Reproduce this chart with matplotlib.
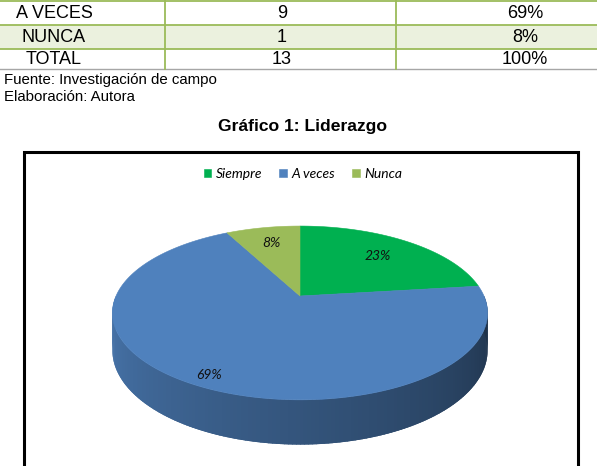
import numpy as np
import matplotlib
matplotlib.use("Agg")
import matplotlib.pyplot as plt
from matplotlib.patches import Polygon, Rectangle
from matplotlib.colors import to_rgb

# data
categories = ["Siempre", "A veces", "Nunca"]
counts = [3, 9, 1]
colors = ["#00b050", "#4f81bd", "#9bbb59"]
table_labels = ["A VECES", "NUNCA", "TOTAL"]
title = "Gráfico 1: Liderazgo"
notes = ["Fuente: Investigación de campo", "Elaboración: Autora"]

total = sum(counts)
pcts = [round(100 * c / total) for c in counts]

fig = plt.figure(figsize=(5.97, 4.66), dpi=100)
ax = fig.add_axes([0, 0, 1, 1])
ax.set_xlim(0, 597)
ax.set_ylim(466, 0)
ax.axis("off")

# table (bottom part)
line_c = "#9bbb59"
ax.add_patch(Rectangle((0, 25), 597, 23.5, facecolor="#ebf1de", edgecolor="none"))
for y in [1, 25, 48.5]:
    ax.plot([0, 597], [y, y], color=line_c, lw=1.3)
ax.plot([0, 597], [69, 69], color="#a6a6a6", lw=1.0)
for x in [165, 396]:
    ax.plot([x, x], [0, 69], color=line_c, lw=1.3)

rows_n = counts[1:] + [total]
rows_p = [f"{p}%" for p in pcts[1:]] + ["100%"]
tfont = dict(fontfamily="Liberation Sans", fontsize=13, va="center", ha="center")
for i, y in enumerate([13, 37, 59]):
    ax.text(54, y, table_labels[i], **tfont)
    ax.text(282, y, str(rows_n[i]), **tfont)
    ax.text(525, y, rows_p[i], **tfont)

for i, y in enumerate([80, 97]):
    ax.text(4, y, notes[i], fontfamily="Liberation Sans", fontsize=10.8, va="center", ha="left")

ax.text(303, 127, title, fontfamily="Liberation Sans", fontsize=12.6,
        fontweight="bold", ha="center", va="center")

# chart box
ax.add_patch(Rectangle((24, 152), 554, 330, facecolor="white", edgecolor="black", lw=2.2))

# perspective pie
CX, CY, A, B, K, DEPTH = 300, 296, 184, 83.6, 0.195, 36


def proj(theta, r=1.0, drop=0.0):
    t = np.radians(theta)
    u = r * np.cos(t)
    v = r * np.sin(t)
    s = 1 / (1 + K * v)
    return CX + A * u * s, CY - B * v * s + drop * s


bounds = [90]
for c in counts:
    bounds.append(bounds[-1] - 360 * c / total)


def owner(theta):
    th = (theta - 90) % 360 - 360  # in (-360, 0]
    for i in range(len(counts)):
        lo = bounds[i + 1] - 90
        hi = bounds[i] - 90
        if lo <= th <= hi:
            return i
    return 0


# side wall (front half), quads overlap a little so no seams show
steps = np.linspace(180, 360, 181)
for a0, a1 in zip(steps[:-1], steps[1:]):
    t = (0.5 * (a0 + a1) - 180) / 180
    f = 0.93 - 0.55 * t
    col = np.array(to_rgb(colors[owner(0.5 * (a0 + a1))])) * f
    a1e = min(a1 + 1.2, 360)
    p0, p1 = proj(a0), proj(a1e)
    q1, q0 = proj(a1e, drop=DEPTH), proj(a0, drop=DEPTH)
    ax.add_patch(Polygon([p0, p1, q1, q0], closed=True, facecolor=col,
                         edgecolor="none", lw=0))

# top faces
handles = []
for i in range(len(counts)):
    th = np.linspace(bounds[i], bounds[i + 1], 200)
    pts = [proj(0, r=0)] + [proj(a) for a in th]
    poly = Polygon(pts, closed=True, facecolor=colors[i], edgecolor=colors[i],
                   lw=0.4, label=categories[i])
    ax.add_patch(poly)
    handles.append(poly)

label_r = [0.7, 0.9, 0.75]
for i in range(len(counts)):
    mid = 0.5 * (bounds[i] + bounds[i + 1])
    x, y = proj(mid, r=label_r[i])
    ax.text(x, y, f"{pcts[i]}%", fontfamily="Lato", style="italic", fontsize=10,
            color="#111111", ha="center", va="center")

ax.legend(handles=handles, loc="center", bbox_to_anchor=(303, 174),
          bbox_transform=ax.transData, ncol=3, frameon=False,
          prop=dict(family="Lato", style="italic", size=10),
          handlelength=0.55, handleheight=0.55, handletextpad=0.35,
          columnspacing=1.2)

fig.savefig("out.png", dpi=100)
